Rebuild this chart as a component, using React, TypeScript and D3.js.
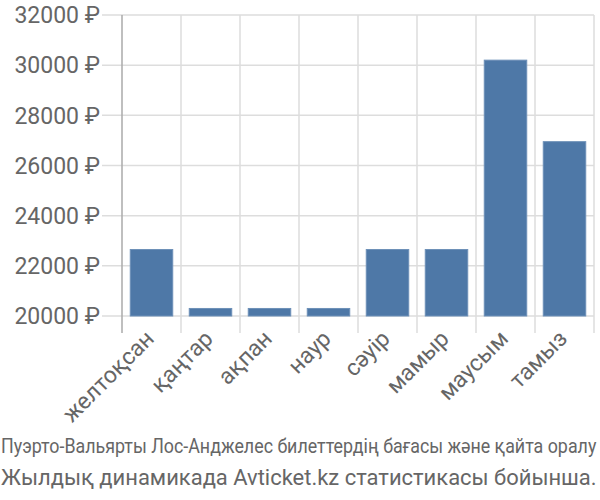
import React, { useEffect, useRef } from "react";
import * as d3 from "d3";

const categories = ["желтоқсан", "қаңтар", "ақпан", "наур", "сәуір", "мамыр", "маусым", "тамыз"];
const values = [22650, 20300, 20300, 20300, 22650, 22650, 30200, 26950];
const yTicks = [20000, 22000, 24000, 26000, 28000, 30000, 32000];
const caption1 = "Пуэрто-Вальярты Лос-Анджелес билеттердің бағасы және қайта оралу";
const caption2 = "Жылдық динамикада Avticket.kz статистикасы бойынша.";

function FitText({ text, x, y, size, width }: { text: string; x: number; y: number; size: number; width: number }) {
  const ref = useRef<SVGTextElement>(null);
  useEffect(() => {
    const el = ref.current;
    if (!el) return;
    const w = el.getComputedTextLength();
    const s = w > 0 ? width / w : 1;
    el.setAttribute("transform", `translate(${x} ${y}) scale(${s} 1)`);
  }, [text, x, y, size, width]);
  return (
    <text ref={ref} x={0} y={0} transform={`translate(${x} ${y})`} fontSize={size} fill="#666">
      {text}
    </text>
  );
}

export default function App() {
  const W = 600, H = 500;
  const left = 122, right = 594, top = 15, bottom = 316;
  const x = d3.scaleBand<string>().domain(categories).range([left, right]).paddingInner(0.28).paddingOuter(0.14);
  const y = d3.scaleLinear().domain([20000, 32000]).range([bottom, top]);
  const step = x.step();
  const gridX = categories.map((_, i) => left + i * step).concat([right]);
  const font = "Roboto, 'Liberation Sans', Arial, sans-serif";
  return (
    <svg width={W} height={H} style={{ position: "absolute", left: 0, top: 0 }} fontFamily={font}>
      <rect width={W} height={H} fill="#fff" />
      {yTicks.map(t => (
        <line key={"h" + t} x1={102} x2={right} y1={y(t)} y2={y(t)} stroke="#ddd" strokeWidth={1.5} />
      ))}
      {gridX.map((gx, i) => (
        <line key={"v" + i} x1={gx} x2={gx} y1={top} y2={333} stroke={i === 0 ? "#aaa" : "#ddd"} strokeWidth={1.5} />
      ))}
      {categories.map((c, i) => (
        <rect key={c} x={x(c)} y={y(values[i])} width={x.bandwidth()} height={bottom - y(values[i])}
          fill="#4e78a7" stroke="#6d90b8" strokeWidth={1} />
      ))}
      {yTicks.map(t => (
        <text key={"l" + t} x={100} y={y(t)} dy="0.36em" textAnchor="end" fontSize={23} fill="#666">
          {t} ₽
        </text>
      ))}
      {categories.map(c => {
        const cx = (x(c) as number) + x.bandwidth() / 2 + 4;
        const cy = 340;
        return (
          <text key={"x" + c} x={cx} y={cy} textAnchor="end" fontSize={23} fill="#666"
            transform={`rotate(-45 ${cx} ${cy})`}>
            {c}
          </text>
        );
      })}
      <FitText text={caption1} x={1} y={453} size={20} width={596} />
      <FitText text={caption2} x={1} y={485} size={22} width={596} />
    </svg>
  );
}
